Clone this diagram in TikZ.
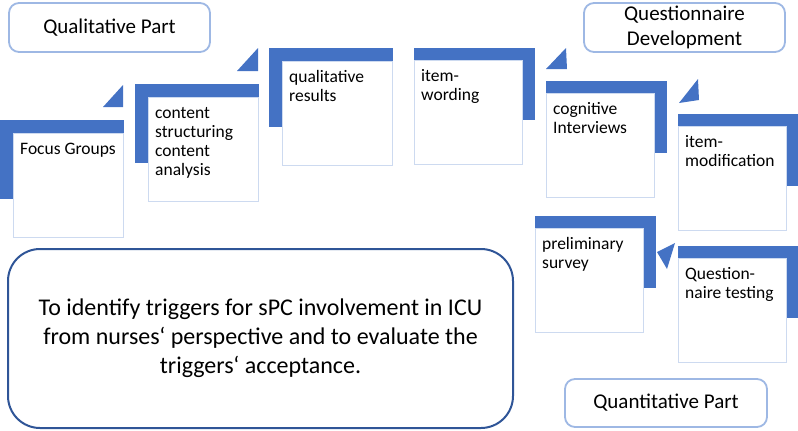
\documentclass[tikz,border=0pt]{standalone}
\usepackage{fontspec}
\setmainfont{Carlito}
\usepackage{tikz}
\usetikzlibrary{calc,positioning}
\definecolor{stepblue}{RGB}{68,114,196}
\definecolor{partline}{RGB}{158,184,228}
\definecolor{boxline}{RGB}{205,218,240}
\definecolor{goalline}{RGB}{47,85,151}
\tikzset{
  partbox/.style={draw=partline, line width=1.8pt, rounded corners=10pt, fill=white, align=center, inner sep=0pt, font=\fontsize{21}{25}\selectfont},
  stepbox/.style={draw=boxline, line width=1pt, fill=white, anchor=north west, minimum height=104pt, inner sep=0pt},
  steptext/.style={anchor=base west, inner sep=0pt, text width=98pt, align=flush left, font=\fontsize{17.5}{19}\selectfont},
  bar/.style={fill=stepblue}
}

\begin{document}
\begin{tikzpicture}[x=1pt,y=-1pt]
\useasboundingbox (0,0) rectangle (798,431);

\node[partbox, minimum width=201, minimum height=49] (qual) at (109.5,27.5) {Qualitative Part};
\node[partbox, minimum width=201, minimum height=49] (qdev) at (684.5,27.5) {Questionnaire\\Development};
\node[partbox, minimum width=202, minimum height=48] (quant) at (666,403) {Quantitative Part};

\node[stepbox, minimum width=110] (focus) at (13,133) {};
\fill[bar] ([shift={(-13pt,13pt)}]focus.north west) rectangle (focus.north east);
\fill[bar] ([shift={(-13pt,13pt)}]focus.north west) rectangle ([yshift=-66pt]focus.north west);
\node[steptext] (focus-t) at ([shift={(7pt,-21pt)}]focus.north west) {Focus Groups};
\fill[bar] (103,107) -- (123,107) -- (123,85) -- cycle;

\node[stepbox, minimum width=110] (struct) at (148,97) {};
\fill[bar] ([shift={(-13pt,13pt)}]struct.north west) rectangle (struct.north east);
\fill[bar] ([shift={(-13pt,13pt)}]struct.north west) rectangle ([yshift=-66pt]struct.north west);
\node[steptext] (struct-t) at ([shift={(7pt,-21pt)}]struct.north west) {content\\structuring\\content\\analysis};
\fill[bar] (237,71) -- (258,71) -- (258,48) -- cycle;

\node[stepbox, minimum width=110] (results) at (282,61) {};
\fill[bar] ([shift={(-13pt,13pt)}]results.north west) rectangle (results.north east);
\fill[bar] ([shift={(-13pt,13pt)}]results.north west) rectangle ([yshift=-66pt]results.north west);
\node[steptext] (results-t) at ([shift={(7pt,-21pt)}]results.north west) {qualitative\\results};

\node[stepbox, minimum width=108] (wording) at (414,60) {};
\fill[bar] ([yshift=12pt]wording.north west) rectangle ([xshift=12pt]wording.north east);
\fill[bar] ([yshift=12pt]wording.north east) rectangle ([shift={(12pt,-60pt)}]wording.north east);
\node[steptext] (wording-t) at ([shift={(7pt,-21pt)}]wording.north west) {item-\\wording};
\fill[bar] (546,69) -- (567,69) -- (566,48) -- cycle;

\node[stepbox, minimum width=108] (cognitive) at (546,93) {};
\fill[bar] ([yshift=12pt]cognitive.north west) rectangle ([xshift=12pt]cognitive.north east);
\fill[bar] ([yshift=12pt]cognitive.north east) rectangle ([shift={(12pt,-60pt)}]cognitive.north east);
\node[steptext] (cognitive-t) at ([shift={(7pt,-21pt)}]cognitive.north west) {cognitive\\Interviews};
\fill[bar] (679,103) -- (699,100) -- (698,79) -- cycle;

\node[stepbox, minimum width=108] (modif) at (678,126) {};
\fill[bar] ([yshift=12pt]modif.north west) rectangle ([xshift=12pt]modif.north east);
\fill[bar] ([yshift=12pt]modif.north east) rectangle ([shift={(12pt,-60pt)}]modif.north east);
\node[steptext] (modif-t) at ([shift={(7pt,-21pt)}]modif.north west) {item-\\modification};

\node[stepbox, minimum width=108] (testing) at (678,258) {};
\fill[bar] ([yshift=12pt]testing.north west) rectangle ([xshift=12pt]testing.north east);
\fill[bar] ([yshift=12pt]testing.north east) rectangle ([shift={(12pt,-60pt)}]testing.north east);
\node[steptext] (testing-t) at ([shift={(7pt,-21pt)}]testing.north west) {Question-\\naire testing};
\fill[bar] (675,243) -- (657,252) -- (667,269) -- cycle;

\node[stepbox, minimum width=108] (survey) at (535,228) {};
\fill[bar] ([yshift=12pt]survey.north west) rectangle ([xshift=12pt]survey.north east);
\fill[bar] ([yshift=12pt]survey.north east) rectangle ([shift={(12pt,-60pt)}]survey.north east);
\node[steptext] (survey-t) at ([shift={(7pt,-21pt)}]survey.north west) {preliminary\\survey};

\node[draw=goalline, line width=2pt, rounded corners=32pt, minimum width=505, minimum height=179, align=center, font=\fontsize{24}{29}\selectfont] (goal) at (260.5,338.5) {To identify triggers for sPC involvement in ICU\\from nurses‘ perspective and to evaluate the\\triggers‘ acceptance.};
\end{tikzpicture}
\end{document}
